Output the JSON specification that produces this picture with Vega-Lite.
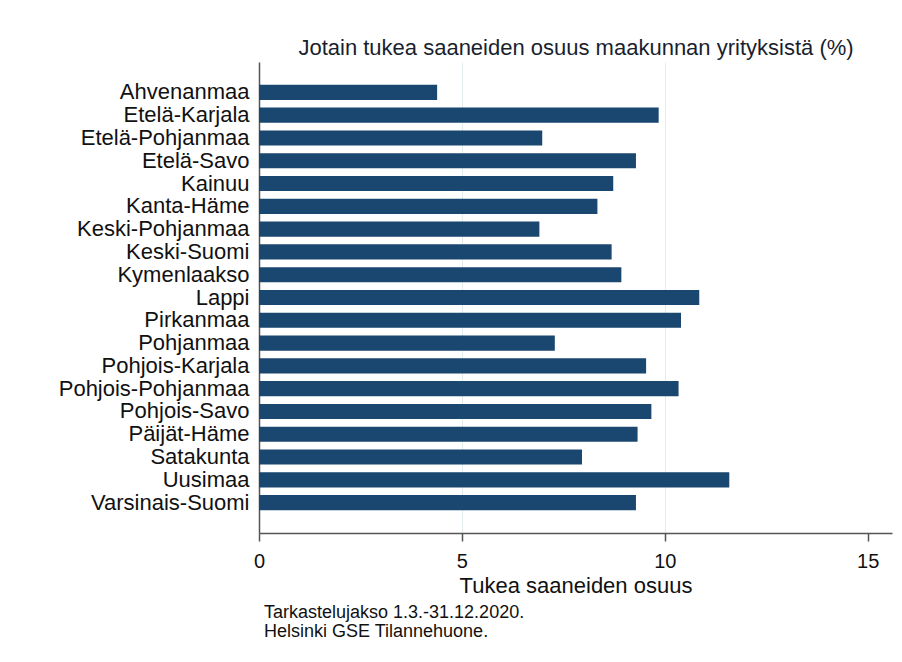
{
  "$schema": "https://vega.github.io/schema/vega-lite/v6.json",
  "autosize": "none",
  "width": 633,
  "height": 471,
  "padding": {"left": 259, "top": 62, "right": 10, "bottom": 129},
  "background": "white",
  "config": {
    "font": "Liberation Sans",
    "view": {"stroke": null},
    "axis": {"labelFont": "Liberation Sans", "titleFont": "Liberation Sans"}
  },
  "title": {
    "text": ["Tarkastelujakso 1.3.-31.12.2020.", "Helsinki GSE Tilannehuone."],
    "orient": "bottom",
    "anchor": "start",
    "frame": "group",
    "dx": 5,
    "offset": 8,
    "fontSize": 18,
    "lineHeight": 19,
    "fontWeight": "normal",
    "color": "#111111",
    "font": "Liberation Sans"
  },
  "data": {
    "values": [
      {"region": "Ahvenanmaa", "share": 4.39},
      {"region": "Etelä-Karjala", "share": 9.85},
      {"region": "Etelä-Pohjanmaa", "share": 6.98},
      {"region": "Etelä-Savo", "share": 9.29},
      {"region": "Kainuu", "share": 8.73},
      {"region": "Kanta-Häme", "share": 8.34},
      {"region": "Keski-Pohjanmaa", "share": 6.91},
      {"region": "Keski-Suomi", "share": 8.69},
      {"region": "Kymenlaakso", "share": 8.93},
      {"region": "Lappi", "share": 10.85},
      {"region": "Pirkanmaa", "share": 10.40},
      {"region": "Pohjanmaa", "share": 7.29},
      {"region": "Pohjois-Karjala", "share": 9.54},
      {"region": "Pohjois-Pohjanmaa", "share": 10.34},
      {"region": "Pohjois-Savo", "share": 9.67},
      {"region": "Päijät-Häme", "share": 9.33},
      {"region": "Satakunta", "share": 7.96},
      {"region": "Uusimaa", "share": 11.59},
      {"region": "Varsinais-Suomi", "share": 9.29}
    ]
  },
  "mark": {"type": "bar", "color": "#1a476f"},
  "encoding": {
    "y": {
      "field": "region",
      "type": "nominal",
      "sort": null,
      "scale": {"paddingInner": 0.335, "paddingOuter": 1.107},
      "axis": {
        "title": "Jotain tukea saaneiden osuus maakunnan yrityksistä (%)",
        "titleAngle": 0,
        "titleX": 316.5,
        "titleY": -15,
        "titleAlign": "center",
        "titleBaseline": "middle",
        "titleFontSize": 22,
        "titleFontWeight": "normal",
        "titleColor": "#1a1f2e",
        "labelFontSize": 22,
        "labelColor": "#111111",
        "labelPadding": 10,
        "labelLimit": 240,
        "ticks": false,
        "domainColor": "#555555",
        "domainWidth": 1.5,
        "grid": false
      }
    },
    "x": {
      "field": "share",
      "type": "quantitative",
      "scale": {"domain": [0, 15.6], "nice": false, "zero": true},
      "axis": {
        "title": "Tukea saaneiden osuus",
        "values": [0, 5, 10, 15],
        "titleFontSize": 22,
        "titleFontWeight": "normal",
        "titleColor": "#111111",
        "titlePadding": 4,
        "labelFontSize": 20,
        "labelColor": "#111111",
        "labelPadding": 10,
        "labelFlush": false,
        "tickSize": 8,
        "tickColor": "#555555",
        "tickWidth": 1.5,
        "domainColor": "#555555",
        "domainWidth": 1.5,
        "grid": true,
        "gridColor": "#e2ecef",
        "gridWidth": 1,
        "gridOpacity": {"condition": {"test": "datum.value == 5 || datum.value == 10", "value": 1}, "value": 0}
      }
    }
  }
}
